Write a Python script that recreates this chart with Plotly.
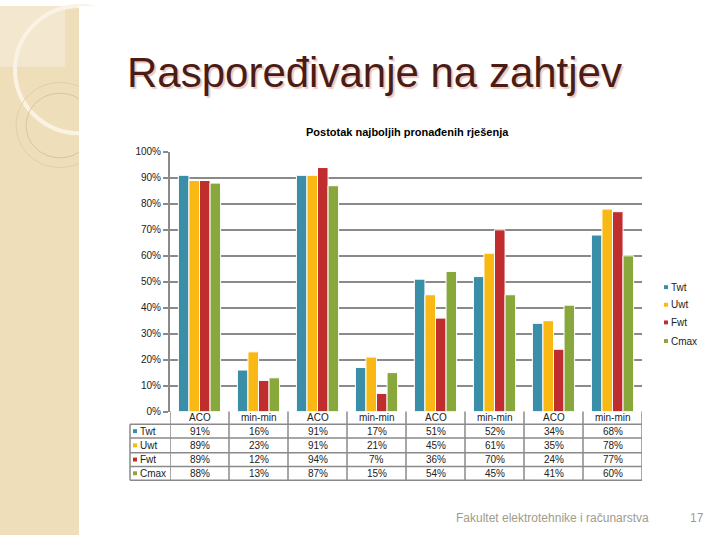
import plotly.graph_objects as go

categories = ["ACO", "min-min", "ACO", "min-min", "ACO", "min-min", "ACO", "min-min"]
series = ["Twt", "Uwt", "Fwt", "Cmax"]
twt = [0.91, 0.16, 0.91, 0.17, 0.51, 0.52, 0.34, 0.68]
uwt = [0.89, 0.23, 0.91, 0.21, 0.45, 0.61, 0.35, 0.78]
fwt = [0.89, 0.12, 0.94, 0.07, 0.36, 0.70, 0.24, 0.77]
cmax = [0.88, 0.13, 0.87, 0.15, 0.54, 0.45, 0.41, 0.60]
colors = ["#3A8EA7", "#FAB814", "#C02D2E", "#88A83C"]

W, H = 720, 540
GRID = "#8A8A8A"
FONT = "Liberation Sans, Arial, sans-serif"


def px(x):
    return x / W


def py(y):
    return 1 - y / H


def label(x, y, text, size=10, color="#222", xref="paper", anchor="center", shadow=None):
    # plain text placed at pixel-ish positions, anchored explicitly
    font = dict(size=size, color=color, family=FONT)
    if shadow:
        font["shadow"] = shadow
    return dict(x=x, y=y, xref=xref, yref="paper", text=text, showarrow=False,
                xanchor=anchor, yanchor="middle", font=font)


fig = go.Figure()
xs = list(range(len(categories)))
for name, vals, col in zip(series, [twt, uwt, fwt, cmax], colors):
    fig.add_trace(go.Bar(x=xs, y=vals, name=name, marker_color=col,
                         marker_line=dict(color="white", width=1)))

shapes = []
annotations = []

# decorative strip on the left
shapes.append(dict(type="rect", xref="paper", yref="paper", x0=0, x1=px(79),
                   y0=0, y1=1, fillcolor="#EFDEBA", line_width=0, layer="below"))
shapes.append(dict(type="rect", xref="paper", yref="paper", x0=0, x1=px(65),
                   y0=py(62), y1=1, fillcolor="#F3E7CF", line_width=0, layer="below"))
shapes.append(dict(type="circle", xref="paper", yref="paper", x0=px(15), x1=px(145),
                   y0=py(130), y1=py(0), line=dict(color="#FAF3E4", width=4), layer="below"))
shapes.append(dict(type="circle", xref="paper", yref="paper", x0=px(16), x1=px(104),
                   y0=py(165), y1=py(78), line=dict(color="#E3D0A8", width=1), layer="below"))
shapes.append(dict(type="circle", xref="paper", yref="paper", x0=px(26), x1=px(94),
                   y0=py(155), y1=py(89), line=dict(color="#DCC59A", width=1), layer="below"))
shapes.append(dict(type="rect", xref="paper", yref="paper", x0=px(79), x1=px(200),
                   y0=py(200), y1=1, fillcolor="white", line_width=0, layer="below"))

# data table below the plot
row_edges = [414, 427, 441, 456, 470, 484]
for i in range(len(categories) + 1):
    shapes.append(dict(type="line", xref="x", yref="paper", x0=i - 0.5, x1=i - 0.5,
                       y0=py(row_edges[-1]), y1=py(row_edges[0]),
                       line=dict(color=GRID, width=1.5)))
for y in row_edges[1:]:
    shapes.append(dict(type="line", xref="paper", yref="paper", x0=px(130), x1=px(642),
                       y0=py(y), y1=py(y), line=dict(color=GRID, width=1.5)))
shapes.append(dict(type="line", xref="paper", yref="paper", x0=px(130), x1=px(130),
                   y0=py(row_edges[-1]), y1=py(row_edges[1]),
                   line=dict(color=GRID, width=1.5)))

for i, c in enumerate(categories):
    annotations.append(label(i, py((row_edges[0] + row_edges[1]) / 2), c, xref="x"))
for r, (name, vals, col) in enumerate(zip(series, [twt, uwt, fwt, cmax], colors)):
    yc = (row_edges[r + 1] + row_edges[r + 2]) / 2
    shapes.append(dict(type="rect", xref="paper", yref="paper", x0=px(133), x1=px(137),
                       y0=py(yc + 2), y1=py(yc - 2), fillcolor=col, line_width=0))
    annotations.append(label(px(138), py(yc), name, anchor="left"))
    for i, v in enumerate(vals):
        annotations.append(label(i, py(yc), f"{round(v * 100)}%", xref="x"))

# legend on the right
legend_y = [287, 305, 323, 342]
for name, col, y in zip(series, colors, legend_y):
    shapes.append(dict(type="rect", xref="paper", yref="paper", x0=px(664), x1=px(668),
                       y0=py(y + 2), y1=py(y - 2), fillcolor=col, line_width=0))
    annotations.append(label(px(669), py(y), name, anchor="left"))

# titles and footer
annotations.append(label(px(374), py(68), "Raspoređivanje na zahtjev", size=42,
                         color="#4B1C16", shadow="2px 2px 1px #EBCBC4"))
annotations.append(label(px(407), py(129), "<b>Postotak najboljih pronađenih rješenja</b>",
                         size=11, color="black"))
annotations.append(label(px(552), py(523), "Fakultet elektrotehnike i računarstva",
                         size=12, color="#A09C8A"))
annotations.append(label(px(697), py(523), "17", size=12, color="#A09C8A"))

fig.update_layout(
    width=W, height=H, margin=dict(l=0, r=0, t=0, b=0),
    paper_bgcolor="white", plot_bgcolor="white",
    font=dict(family=FONT, size=10, color="#222"),
    barmode="group", bargap=0.285, bargroupgap=0,
    showlegend=False, shapes=shapes, annotations=annotations,
    xaxis=dict(domain=[px(170), px(642)], range=[-0.5, len(categories) - 0.5],
               showticklabels=False, showgrid=False, zeroline=False, ticks=""),
    yaxis=dict(domain=[py(414), py(149)], range=[0, 1], dtick=0.1, tickformat=".0%",
               showgrid=True, gridcolor=GRID, gridwidth=2, zeroline=False,
               showline=True, linecolor=GRID, linewidth=2,
               ticks="outside", ticklen=5, tickcolor=GRID, tickwidth=2,
               tickfont=dict(size=10, color="#222")),
)

fig.write_html("out.html", config={"displayModeBar": False},
               post_script="document.body.style.margin='0';")
